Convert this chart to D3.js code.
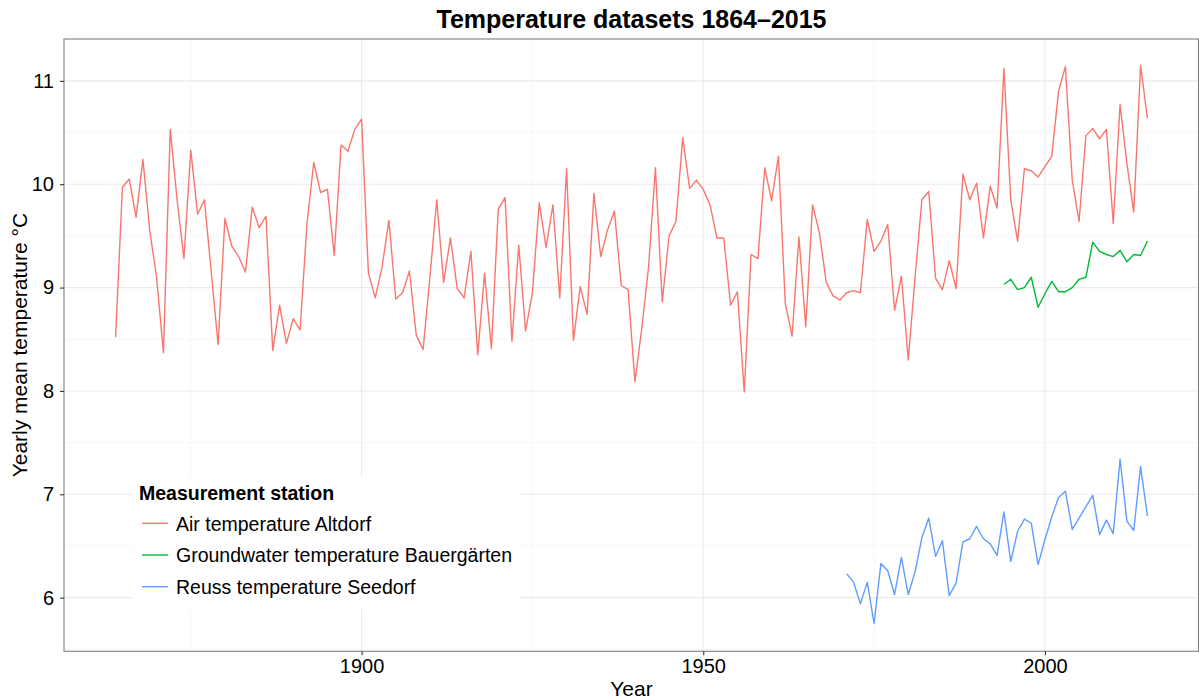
<!DOCTYPE html>
<html>
<head>
<meta charset="utf-8">
<script src="https://cdn.jsdelivr.net/npm/d3@7"></script>
<style>
  html, body { margin: 0; padding: 0; background: #fff; }
  text { font-family: "Liberation Sans", Arial, Helvetica, sans-serif; }
</style>
</head>
<body>
<svg id="chart" width="1199" height="700"></svg>
<script>
// ---- Data ----
const airStart = 1864;
const airAltdorf = [
  // 1864-1869
  8.52, 9.97, 10.05, 9.68, 10.24, 9.55,
  // 1870s
  9.10, 8.37, 10.53, 9.85, 9.28, 10.33, 9.71, 9.85, 9.15, 8.45,
  // 1880s
  9.67, 9.40, 9.30, 9.15, 9.78, 9.58, 9.69, 8.39, 8.83, 8.46,
  // 1890s
  8.70, 8.59, 9.61, 10.21, 9.92, 9.95, 9.31, 10.38, 10.32, 10.53,
  // 1900s
  10.63, 9.14, 8.90, 9.20, 9.65, 8.89, 8.95, 9.16, 8.54, 8.40,
  // 1910s
  9.10, 9.85, 9.05, 9.48, 8.99, 8.90, 9.35, 8.35, 9.14, 8.41,
  // 1920s
  9.76, 9.87, 8.48, 9.41, 8.58, 8.95, 9.82, 9.39, 9.80, 8.90,
  // 1930s
  10.15, 8.49, 9.01, 8.74, 9.91, 9.30, 9.56, 9.74, 9.02, 8.98,
  // 1940s
  8.09, 8.60, 9.20, 10.16, 8.86, 9.50, 9.64, 10.45, 9.96, 10.04,
  // 1950s
  9.95, 9.80, 9.48, 9.48, 8.83, 8.96, 7.99, 9.32, 9.28, 10.16,
  // 1960s
  9.84, 10.27, 8.85, 8.53, 9.49, 8.62, 9.80, 9.53, 9.05, 8.92,
  // 1970s
  8.88, 8.95, 8.97, 8.95, 9.66, 9.35, 9.45, 9.61, 8.78, 9.11,
  // 1980s
  8.30, 9.10, 9.85, 9.93, 9.09, 8.98, 9.26, 8.99, 10.10, 9.85,
  // 1990s
  10.01, 9.48, 9.98, 9.77, 11.12, 9.85, 9.45, 10.15, 10.13, 10.07,
  // 2000s
  10.17, 10.27, 10.90, 11.14, 10.04, 9.64, 10.47, 10.54, 10.44, 10.53,
  // 2010-2015
  9.62, 10.77, 10.20, 9.73, 11.15, 10.64
];

const groundStart = 1994;
const groundBauergarten = [
  9.03, 9.08, 8.98, 9.00, 9.10, 8.81,
  8.94, 9.06, 8.96, 8.96, 9.00, 9.08, 9.10, 9.44, 9.35, 9.32,
  9.30, 9.36, 9.25, 9.32, 9.31, 9.45
];

const reussStart = 1971;
const reussSeedorf = [
  6.23, 6.15, 5.94, 6.15, 5.75, 6.33, 6.26, 6.03, 6.39,
  6.03, 6.25, 6.58, 6.77, 6.40, 6.55, 6.02, 6.14, 6.54, 6.57,
  6.69, 6.57, 6.52, 6.41, 6.83, 6.35, 6.64, 6.76, 6.72, 6.32,
  6.56, 6.78, 6.97, 7.03, 6.66, 6.77, 6.88, 6.99, 6.61, 6.75,
  6.62, 7.34, 6.74, 6.65, 7.27, 6.79
];

const seriesNames = ["Air temperature Altdorf", "Groundwater temperature Bauergärten", "Reuss temperature Seedorf"];
const seriesColors = ["#F8766D", "#00BA38", "#619CFF"];
const xTicks = [1900, 1950, 2000];
const xMinorTicks = [1875, 1925, 1975];
const yTicks = [6, 7, 8, 9, 10, 11];
const yMinorTicks = [5.5, 6.5, 7.5, 8.5, 9.5, 10.5];

const toPoints = (start, arr) => arr.map((v, i) => ({ year: start + i, value: v }));
const series = [
  toPoints(airStart, airAltdorf),
  toPoints(groundStart, groundBauergarten),
  toPoints(reussStart, reussSeedorf)
];

// ---- Layout ----
const svg = d3.select("#chart");
const panel = { left: 64, right: 1199, top: 39, bottom: 651.3 };

const x = d3.scaleLinear().domain([1856.45, 2022.55]).range([panel.left, panel.right]);
const y = d3.scaleLinear().domain([5.481, 11.405]).range([panel.bottom, panel.top]);

// Panel background
svg.append("rect")
  .attr("x", panel.left).attr("y", panel.top)
  .attr("width", panel.right - panel.left).attr("height", panel.bottom - panel.top)
  .attr("fill", "#fff");

// Minor grid
const grid = svg.append("g");
grid.selectAll(".vminor").data(xMinorTicks).enter().append("line")
  .attr("x1", d => x(d)).attr("x2", d => x(d))
  .attr("y1", panel.top).attr("y2", panel.bottom)
  .attr("stroke", "#F7F7F7").attr("stroke-width", 1);
grid.selectAll(".hminor").data(yMinorTicks).enter().append("line")
  .attr("y1", d => y(d)).attr("y2", d => y(d))
  .attr("x1", panel.left).attr("x2", panel.right)
  .attr("stroke", "#F7F7F7").attr("stroke-width", 1);
// Major grid
grid.selectAll(".vmajor").data(xTicks).enter().append("line")
  .attr("x1", d => x(d)).attr("x2", d => x(d))
  .attr("y1", panel.top).attr("y2", panel.bottom)
  .attr("stroke", "#EBEBEB").attr("stroke-width", 1.1);
grid.selectAll(".hmajor").data(yTicks).enter().append("line")
  .attr("y1", d => y(d)).attr("y2", d => y(d))
  .attr("x1", panel.left).attr("x2", panel.right)
  .attr("stroke", "#EBEBEB").attr("stroke-width", 1.1);

// Lines
const line = d3.line().x(d => x(d.year)).y(d => y(d.value));
svg.append("g").selectAll("path").data(series).enter().append("path")
  .attr("d", line)
  .attr("fill", "none")
  .attr("stroke", (d, i) => seriesColors[i])
  .attr("stroke-width", 1.4)
  .attr("stroke-linejoin", "round");

// Panel border
svg.append("rect")
  .attr("x", panel.left).attr("y", panel.top)
  .attr("width", panel.right - panel.left - 0.5).attr("height", panel.bottom - panel.top)
  .attr("fill", "none").attr("stroke", "#7F7F7F").attr("stroke-width", 1.1);

// Axes
const xAxis = d3.axisBottom(x).tickValues(xTicks).tickFormat(d3.format("d")).tickSize(4).tickPadding(4);
const gx = svg.append("g").attr("transform", `translate(0,${panel.bottom})`).call(xAxis);
gx.select(".domain").remove();
gx.selectAll(".tick line").attr("stroke", "#333").attr("stroke-width", 1.1);
gx.selectAll(".tick text").attr("font-size", 20).attr("fill", "#000")
  .attr("font-family", "Liberation Sans, Arial, sans-serif");

const yAxis = d3.axisLeft(y).tickValues(yTicks).tickFormat(d3.format("d")).tickSize(4).tickPadding(6);
const gy = svg.append("g").attr("transform", `translate(${panel.left},0)`).call(yAxis);
gy.select(".domain").remove();
gy.selectAll(".tick line").attr("stroke", "#333").attr("stroke-width", 1.1);
gy.selectAll(".tick text").attr("font-size", 20).attr("fill", "#000")
  .attr("font-family", "Liberation Sans, Arial, sans-serif");

// Titles
svg.append("text")
  .attr("x", (panel.left + panel.right) / 2).attr("y", 28)
  .attr("text-anchor", "middle").attr("font-size", 25).attr("font-weight", "bold")
  .text("Temperature datasets 1864\u20132015");

svg.append("text")
  .attr("x", (panel.left + panel.right) / 2).attr("y", 696)
  .attr("text-anchor", "middle").attr("font-size", 21)
  .text("Year");

svg.append("text")
  .attr("transform", `translate(27,${(panel.top + panel.bottom) / 2}) rotate(-90)`)
  .attr("text-anchor", "middle").attr("font-size", 21)
  .text("Yearly mean temperature \u00B0C");

// Legend
const legend = svg.append("g");
legend.append("rect")
  .attr("x", 133).attr("y", 477).attr("width", 387).attr("height", 132)
  .attr("fill", "#fff");
legend.append("text")
  .attr("x", 139).attr("y", 499.5)
  .attr("font-size", 19.5).attr("font-weight", "bold")
  .text("Measurement station");
const items = legend.selectAll(".item").data(seriesNames).enter().append("g")
  .attr("transform", (d, i) => `translate(0,${523.3 + i * 31.7})`);
items.append("line")
  .attr("x1", 142).attr("x2", 168).attr("y1", 0).attr("y2", 0)
  .attr("stroke", (d, i) => seriesColors[i]).attr("stroke-width", 1.4);
items.append("text")
  .attr("x", 176).attr("y", 7.3)
  .attr("font-size", 19.5)
  .text(d => d);
</script>
</body>
</html>
